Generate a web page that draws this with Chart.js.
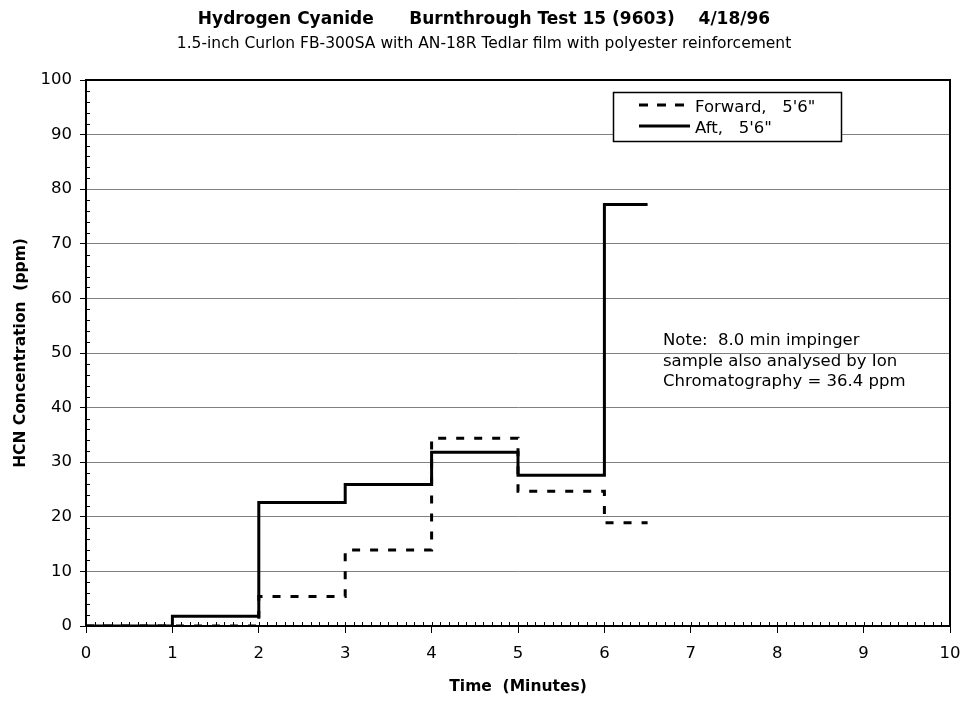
<!DOCTYPE html>
<html>
<head>
<meta charset="utf-8">
<script src="https://cdn.jsdelivr.net/npm/chart.js@4.4.1/dist/chart.umd.min.js"></script>
<style>
  html, body { margin: 0; padding: 0; background: #fff; }
  #wrap { width: 968px; height: 702px; }
</style>
</head>
<body>
<div id="wrap"><canvas id="hcnChart" width="968" height="702"></canvas></div>
<script>
// data
const times = [0, 1, 2, 3, 4, 5, 6, 6.5];
const forward = [0, 0, 5.4, 13.9, 34.4, 24.7, 18.9, 18.9];
const aft = [0, 1.8, 22.6, 25.9, 31.8, 27.6, 77.2, 77.2];
const xTicks = [0, 1, 2, 3, 4, 5, 6, 7, 8, 9, 10];
const yTicks = [0, 10, 20, 30, 40, 50, 60, 70, 80, 90, 100];
const seriesNames = ["Forward,   5'6\"", "Aft,   5'6\""];
const noteLines = ["Note:  8.0 min impinger", "sample also analysed by Ion", "Chromatography = 36.4 ppm"];

const FONT = "'DejaVu Sans', 'Liberation Sans', Arial, sans-serif";

function toPoints(xs, ys) {
  return xs.map((x, i) => ({ x: x, y: ys[i] }));
}

// plot frame, minor ticks, legend box and note
const extras = {
  id: "extras",
  beforeDatasetsDraw(chart) {
    const { ctx, chartArea: a } = chart;
    const xs = chart.scales.x, ys = chart.scales.y;
    ctx.save();
    ctx.strokeStyle = "#000";
    ctx.lineWidth = 2;
    ctx.strokeRect(a.left, a.top, a.right - a.left, a.bottom - a.top);
    ctx.lineWidth = 1;
    ctx.beginPath();
    // x minor ticks every 0.1, pointing inside
    for (let i = 0; i <= 100; i++) {
      const px = Math.round(xs.getPixelForValue(i / 10)) + 0.5;
      ctx.moveTo(px, a.bottom);
      ctx.lineTo(px, a.bottom - 4);
    }
    // y minor ticks every 2, pointing inside
    for (let v = 2; v < 100; v += 2) {
      if (v % 10 === 0) continue;
      const py = Math.round(ys.getPixelForValue(v)) + 0.5;
      ctx.moveTo(a.left, py);
      ctx.lineTo(a.left + 4, py);
    }
    ctx.stroke();
    ctx.restore();
  },
  afterDraw(chart) {
    const { ctx } = chart;
    ctx.save();
    // legend
    const lx = 613, ly = 92, lw = 228, lh = 49;
    ctx.fillStyle = "#fff";
    ctx.fillRect(lx, ly, lw, lh);
    ctx.strokeStyle = "#000";
    ctx.lineWidth = 1.5;
    ctx.strokeRect(lx + 0.5, ly + 0.5, lw, lh);
    ctx.lineWidth = 3;
    ctx.setLineDash([9, 9]);
    ctx.beginPath();
    ctx.moveTo(639, 105);
    ctx.lineTo(690, 105);
    ctx.stroke();
    ctx.setLineDash([]);
    ctx.beginPath();
    ctx.moveTo(639, 126);
    ctx.lineTo(690, 126);
    ctx.stroke();
    ctx.fillStyle = "#000";
    ctx.font = "16.5px " + FONT;
    ctx.textBaseline = "alphabetic";
    ctx.fillText(seriesNames[0], 695, 112);
    ctx.fillText(seriesNames[1], 695, 133);
    // note
    noteLines.forEach((t, i) => {
      ctx.fillText(t, 663, 345 + i * 20.5);
    });
    ctx.restore();
  }
};

const ctx = document.getElementById("hcnChart").getContext("2d");
new Chart(ctx, {
  type: "line",
  data: {
    datasets: [
      {
        label: seriesNames[0],
        data: toPoints(times, forward),
        borderColor: "#000",
        borderWidth: 3,
        borderDash: [8, 10],
        borderCapStyle: "butt",
        stepped: "before",
        pointRadius: 0,
        fill: false,
      },
      {
        label: seriesNames[1],
        data: toPoints(times, aft),
        borderColor: "#000",
        borderWidth: 3,
        stepped: "before",
        pointRadius: 0,
        fill: false,
      },
    ],
  },
  options: {
    responsive: false,
    animation: false,
    layout: { padding: 0 },
    plugins: {
      legend: { display: false },
      tooltip: { enabled: false },
      title: {
        display: true,
        text: "Hydrogen Cyanide      Burnthrough Test 15 (9603)    4/18/96",
        color: "#000",
        font: { family: FONT, size: 17, weight: "bold" },
        padding: { top: 9, bottom: 5 },
      },
      subtitle: {
        display: true,
        text: "1.5-inch Curlon FB-300SA with AN-18R Tedlar film with polyester reinforcement",
        color: "#000",
        font: { family: FONT, size: 15.5 },
        padding: { top: 0, bottom: 27 },
      },
    },
    scales: {
      x: {
        type: "linear",
        min: 0,
        max: 10,
        afterFit(scale) {
          scale.height = 76;
          scale.paddingLeft = 0;
          scale.paddingRight = 18;
        },
        afterBuildTicks(scale) { scale.ticks = xTicks.map((v) => ({ value: v })); },
        grid: { drawOnChartArea: false, drawTicks: true, tickLength: 7, tickColor: "#000", tickWidth: 1 },
        border: { display: true, color: "#000", width: 2 },
        ticks: { color: "#000", font: { family: FONT, size: 16.5 }, padding: 11, maxRotation: 0 },
        title: {
          display: true,
          text: "Time  (Minutes)",
          color: "#000",
          font: { family: FONT, size: 15.5, weight: "bold" },
          padding: { top: 0, bottom: 6 },
        },
      },
      y: {
        min: 0,
        max: 100,
        afterFit(scale) { scale.width = 86; },
        afterBuildTicks(scale) { scale.ticks = yTicks.map((v) => ({ value: v })); },
        grid: { color: "#808080", lineWidth: 1, drawTicks: true, tickLength: 6, tickColor: "#000" },
        border: { display: true, color: "#000", width: 2 },
        ticks: { color: "#000", font: { family: FONT, size: 16.5 }, padding: 8 },
        title: {
          display: true,
          text: "HCN Concentration  (ppm)",
          color: "#000",
          font: { family: FONT, size: 15.5, weight: "bold" },
          padding: { top: 12, bottom: 0 },
        },
      },
    },
  },
  plugins: [extras],
});
</script>
</body>
</html>
